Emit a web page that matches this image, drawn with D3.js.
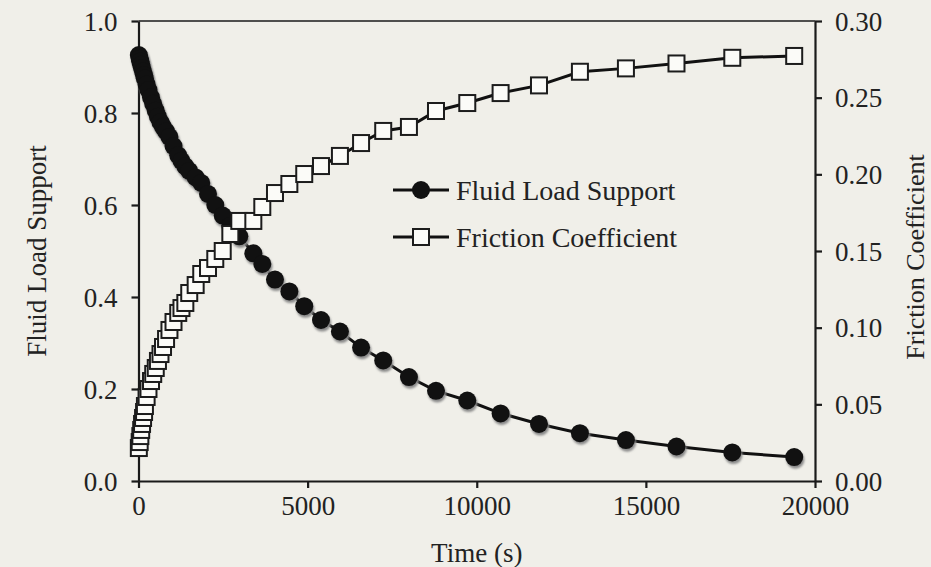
<!DOCTYPE html>
<html>
<head>
<meta charset="utf-8">
<script src="https://cdn.jsdelivr.net/npm/d3@7"></script>
<style>
  html, body { margin: 0; padding: 0; background: #f0efe9; }
  svg { display: block; }
  text { font-family: "Liberation Serif", "Times New Roman", serif; fill: #222; }
</style>
</head>
<body>
<svg id="chart" width="931" height="567"></svg>
<script>
// Sampling times (s), shared by both series
const timeSec = [10, 35, 55, 80, 105, 135, 165, 190, 240, 295, 370, 435, 510, 575, 650, 725, 815, 915,
  1035, 1175, 1270, 1385, 1500, 1690, 1855, 2055, 2270, 2490, 2715, 2980, 3395, 3660, 4035, 4460,
  4900, 5395, 5955, 6580, 7235, 7995, 8795, 9720, 10705, 11840, 13050, 14410, 15905, 17555, 19385];

// Fluid load support fraction (left axis)
const fluidLoad = [0.926, 0.918, 0.912, 0.905, 0.898, 0.890, 0.882, 0.875, 0.862, 0.850, 0.834, 0.820,
  0.805, 0.792, 0.780, 0.770, 0.760, 0.748, 0.728, 0.708, 0.696, 0.684, 0.674, 0.660, 0.648, 0.624,
  0.600, 0.577, 0.555, 0.532, 0.495, 0.472, 0.438, 0.412, 0.380, 0.350, 0.325, 0.290, 0.262, 0.226,
  0.196, 0.175, 0.147, 0.124, 0.104, 0.089, 0.075, 0.062, 0.052];

// Friction coefficient (right axis)
const frictionCoef = [0.0215, 0.0254, 0.0293, 0.0333, 0.0372, 0.0411, 0.0450, 0.0489, 0.0548, 0.0600,
  0.0652, 0.0698, 0.0737, 0.0783, 0.0828, 0.0874, 0.0926, 0.0985, 0.1037, 0.1096, 0.1128, 0.1161,
  0.1226, 0.1278, 0.1350, 0.1389, 0.1448, 0.1500, 0.1611, 0.1696, 0.1696, 0.1787, 0.1878, 0.1937,
  0.2002, 0.2054, 0.2120, 0.2204, 0.2283, 0.2309, 0.2413, 0.2465, 0.2530, 0.2580, 0.2669, 0.2691,
  0.2723, 0.2760, 0.2772];

const xTicks = [0, 5000, 10000, 15000, 20000];
const leftTicks = [0.0, 0.2, 0.4, 0.6, 0.8, 1.0];
const rightTicks = [0.00, 0.05, 0.10, 0.15, 0.20, 0.25, 0.30];
const seriesNames = ["Fluid Load Support", "Friction Coefficient"];
const axisTitles = { x: "Time (s)", left: "Fluid Load Support", right: "Friction Coefficient" };

const W = 931, H = 567;
const margin = { left: 138.5, right: 116, top: 21, bottom: 86 };
const x0 = margin.left, x1 = W - margin.right, y0 = H - margin.bottom, y1 = margin.top;

const FONT = '"Liberation Serif", "Times New Roman", serif';
const FS = "27px";

const svg = d3.select("#chart");

const defs = svg.append("defs");
const f = defs.append("filter").attr("id", "soft").attr("x", "-50%").attr("y", "-50%")
  .attr("width", "200%").attr("height", "200%");
f.append("feGaussianBlur").attr("stdDeviation", 1.1);

const x = d3.scaleLinear().domain([0, 20000]).range([x0, x1]);
const yL = d3.scaleLinear().domain([0, 1]).range([y0, y1]);
const yR = d3.scaleLinear().domain([0, 0.30]).range([y0, y1]);

const pts = timeSec.map((t, i) => ({ t, fl: fluidLoad[i], fc: frictionCoef[i] }));

function styleAxis(g) {
  g.select(".domain").attr("stroke", "#1a1a1a").attr("stroke-width", 2.2);
  g.selectAll(".tick line").attr("stroke", "#1a1a1a").attr("stroke-width", 2.2);
  g.selectAll(".tick text").style("font-size", FS).style("font-family", FONT).attr("fill", "#222");
}

// top frame line
svg.append("line").attr("x1", x0).attr("x2", x1).attr("y1", y1).attr("y2", y1)
  .attr("stroke", "#1a1a1a").attr("stroke-width", 1.6);

const gx = svg.append("g").attr("transform", `translate(0,${y0})`)
  .call(d3.axisBottom(x).tickValues(xTicks).tickFormat(d3.format("d")).tickSize(7).tickSizeOuter(0).tickPadding(8));
styleAxis(gx);

const gl = svg.append("g").attr("transform", `translate(${x0},0)`)
  .call(d3.axisLeft(yL).tickValues(leftTicks).tickFormat(d3.format(".1f")).tickSize(7).tickSizeOuter(0).tickPadding(14));
styleAxis(gl);
gl.selectAll(".tick text").attr("dy", "0.34em");

const gr = svg.append("g").attr("transform", `translate(${x1},0)`)
  .call(d3.axisRight(yR).tickValues(rightTicks).tickFormat(d3.format(".2f")).tickSize(7).tickSizeOuter(0).tickPadding(13));
styleAxis(gr);
gr.selectAll(".tick text").attr("dy", "0.34em");

// Axis titles
svg.append("text").attr("x", (x0 + x1) / 2).attr("y", 562).attr("text-anchor", "middle")
  .style("font-size", FS).text(axisTitles.x);
svg.append("text").attr("transform", `translate(46,${(y0 + y1) / 2}) rotate(-90)`)
  .attr("text-anchor", "middle").style("font-size", FS).text(axisTitles.left);
svg.append("text").attr("transform", `translate(924,${(y0 + y1) / 2 + 6}) rotate(-90)`)
  .attr("text-anchor", "middle").style("font-size", "26px").text(axisTitles.right);

const plot = svg.append("g");
const R = 9, S = 16;

// Fluid load support: line, shadowed filled circles
plot.append("path").datum(pts)
  .attr("d", d3.line().x(d => x(d.t)).y(d => yL(d.fl)))
  .attr("fill", "none").attr("stroke", "#111").attr("stroke-width", 3);
plot.append("g").selectAll("circle").data(pts).join("circle")
  .attr("cx", d => x(d.t) + 1.2).attr("cy", d => yL(d.fl) + 2.6).attr("r", R)
  .attr("fill", "#8a8a8a").attr("filter", "url(#soft)");
plot.append("g").selectAll("circle").data(pts).join("circle")
  .attr("cx", d => x(d.t)).attr("cy", d => yL(d.fl)).attr("r", R)
  .attr("fill", "#111");

// Friction coefficient: line, open squares
plot.append("path").datum(pts)
  .attr("d", d3.line().x(d => x(d.t)).y(d => yR(d.fc)))
  .attr("fill", "none").attr("stroke", "#111").attr("stroke-width", 3);
plot.append("g").selectAll("rect").data(pts).join("rect")
  .attr("x", d => x(d.t) - S / 2).attr("y", d => yR(d.fc) - S / 2)
  .attr("width", S).attr("height", S)
  .attr("fill", "#fbfbf8").attr("stroke", "#1c1c1c").attr("stroke-width", 2);

// Legend
const leg = svg.append("g");
const legRows = [{ name: seriesNames[0], y: 190, kind: "circle" }, { name: seriesNames[1], y: 237, kind: "square" }];
legRows.forEach(r => {
  leg.append("line").attr("x1", 393).attr("x2", 449).attr("y1", r.y).attr("y2", r.y)
    .attr("stroke", "#111").attr("stroke-width", 3.2);
  if (r.kind === "circle") {
    leg.append("circle").attr("cx", 421).attr("cy", r.y).attr("r", R).attr("fill", "#111");
  } else {
    leg.append("rect").attr("x", 421 - S / 2).attr("y", r.y - S / 2).attr("width", S).attr("height", S)
      .attr("fill", "#fbfbf8").attr("stroke", "#1c1c1c").attr("stroke-width", 2);
  }
  leg.append("text").attr("x", 456).attr("y", r.y).attr("dy", "0.34em")
    .style("font-size", "28px").text(r.name);
});
</script>
</body>
</html>
